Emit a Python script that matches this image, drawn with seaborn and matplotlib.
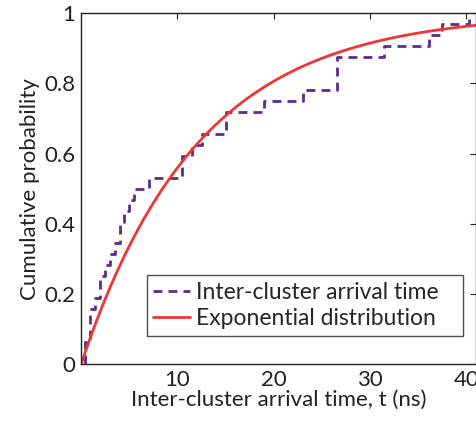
import numpy as np
import pandas as pd
import matplotlib
matplotlib.use("Agg")
import matplotlib.pyplot as plt
import seaborn as sns

# Observed inter-cluster arrival times (ns), 32 samples read from the ECDF steps
arrival_times = [0.45, 0.45, 0.97, 0.97, 0.97, 1.48, 2.0, 2.0, 2.5, 3.0, 3.47,
                 4.06, 4.06, 4.5, 5.0, 5.5, 7.0, 10.5, 10.5, 11.5, 12.5, 15.0,
                 15.0, 19.0, 23.0, 26.6, 26.6, 26.6, 31.4, 36.1, 37.5, 40.3]
tau = 12.2  # mean arrival time of fitted exponential (ns)
x_ticks = [10, 20, 30, 40]
y_ticks = [0, 0.2, 0.4, 0.6, 0.8, 1]
y_tick_labels = ["0", "0.2", "0.4", "0.6", "0.8", "1"]

sns.set_style("white")
plt.rcParams["font.family"] = ["Lato", "DejaVu Sans"]

fig = plt.figure(figsize=(4.77, 4.22), dpi=100)
ax = fig.add_axes([0.170, 0.137, 0.828, 0.832])

df = pd.DataFrame({"t": arrival_times})
sns.ecdfplot(data=df, x="t", ax=ax, color="#5b2d90", lw=2.0,
             linestyle=(0, (3.2, 2.2)), label="Inter-cluster arrival time   ")

t = np.linspace(0, 41, 400)
fit = pd.DataFrame({"t": t, "p": 1 - np.exp(-t / tau)})
sns.lineplot(data=fit, x="t", y="p", ax=ax, color="#f03535", lw=2.0,
             label="Exponential distribution   ")

ax.set_xlim(0, 41)
ax.set_ylim(0, 1)
ax.set_xticks(x_ticks)
ax.set_yticks(y_ticks)
ax.set_yticklabels(y_tick_labels)
ax.tick_params(direction="in", length=4, width=0.8, top=True, right=True,
               labelsize=16, pad=4, colors="#222222", labelcolor="#222222")
for s in ax.spines.values():
    s.set_color("#222222")
    s.set_linewidth(1.0)
ax.set_xlabel("Inter-cluster arrival time, t (ns)", fontsize=16, labelpad=0,
              color="#222222")
ax.set_ylabel("Cumulative probability", fontsize=16, labelpad=3, color="#222222")

leg = ax.legend(loc="lower right", bbox_to_anchor=(0.967, 0.08), fontsize=16.5,
                frameon=True, fancybox=False, edgecolor="#222222",
                handlelength=1.6, borderpad=0.3, labelspacing=0.22,
                handletextpad=0.25, borderaxespad=0)
leg.get_frame().set_linewidth(1.0)

fig.savefig("out.png", dpi=100)
